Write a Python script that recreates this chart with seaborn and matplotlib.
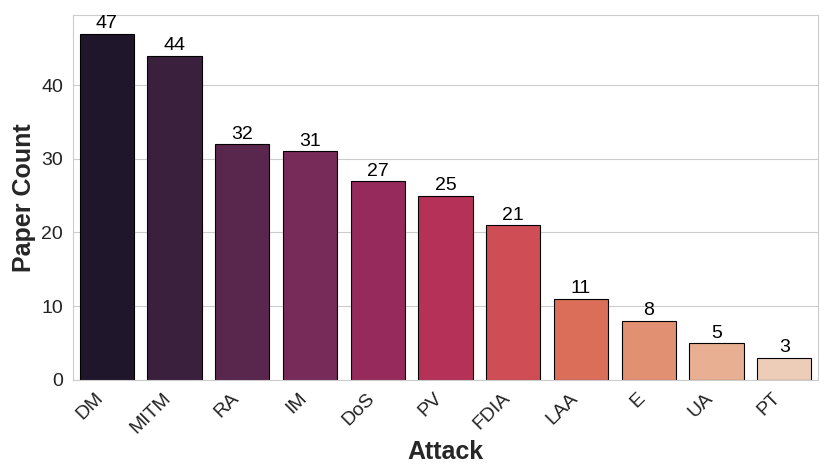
import pandas as pd
import numpy as np
import matplotlib.pyplot as plt
import seaborn as sns

sns.set_style('whitegrid')
plt.rcParams['font.family'] = ['Liberation Sans', 'DejaVu Sans']

attacks = ['DM', 'MITM', 'RA', 'IM', 'DoS', 'PV', 'FDIA', 'LAA', 'E', 'UA', 'PT']
counts = [47, 44, 32, 31, 27, 25, 21, 11, 8, 5, 3]

df = pd.DataFrame({'Attack': attacks, 'Paper Count': counts})

fig, ax = plt.subplots(figsize=(8.28, 4.73), dpi=100)
sns.barplot(data=df, x='Attack', y='Paper Count', hue='Attack',
            palette='rocket', edgecolor='black', linewidth=0.8,
            legend=False, ax=ax)

for c in ax.containers:
    ax.bar_label(c, fontsize=14, padding=1, color='black')

ax.set_xlabel('Attack', fontsize=18, fontweight='bold', labelpad=2)
ax.set_ylabel('Paper Count', fontsize=18, fontweight='bold')
plt.xticks(rotation=45, ha='right', fontsize=14, color='#222222')
plt.yticks(fontsize=14, color='#222222')
ax.set_ylim(0, 49.5)
ax.set_xlim(-0.5, 10.5)

plt.subplots_adjust(left=0.088, right=0.988, top=0.968, bottom=0.197)
plt.savefig('out.png', dpi=100)
